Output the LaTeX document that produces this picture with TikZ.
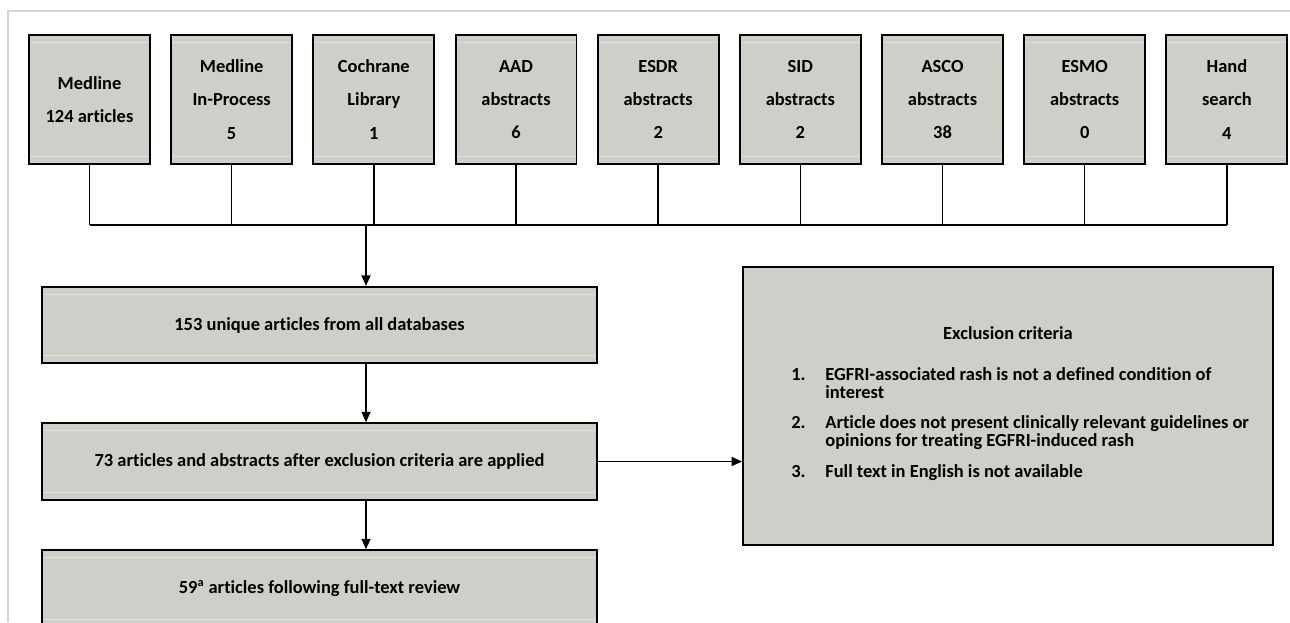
\documentclass[tikz,border=0pt]{standalone}
\usepackage{fontspec}
\setmainfont{Carlito}[Ligatures=NoCommon]
\usepackage{tikz}
\usetikzlibrary{arrows.meta,positioning,calc}
\definecolor{boxgray}{RGB}{204,208,201}
\definecolor{boxshine}{RGB}{224,227,221}
\definecolor{framegray}{RGB}{211,214,208}

\begin{document}
\begin{tikzpicture}[x=0.02cm, y=-0.02cm, >={Triangle[length=0.21cm,width=0.18cm]}, node distance=2.844cm]
\tikzstyle{shine}=[path picture={
    \draw[boxshine, line width=0.6pt] ([yshift=-0.15cm]path picture bounding box.north west) -- ([yshift=-0.15cm]path picture bounding box.north east);
    \draw[boxshine, line width=0.6pt] ([yshift=0.15cm]path picture bounding box.south west) -- ([yshift=0.15cm]path picture bounding box.south east);}]
\tikzstyle{src}=[draw=black, fill=boxgray, line width=1.1pt, minimum width=2.42cm, minimum height=2.58cm, inner sep=0pt, align=center, font=\fontsize{10.5}{19}\selectfont\bfseries, shine]
\tikzstyle{stage}=[draw=black, fill=boxgray, line width=1.1pt, minimum width=11.1cm, minimum height=1.53cm, inner sep=0pt, font=\fontsize{10.5}{12}\selectfont\bfseries, shine]
\tikzstyle{crit}=[draw=black, fill=boxgray, line width=1.1pt, minimum width=10.6cm, minimum height=5.56cm, inner sep=0pt]
\tikzstyle{link}=[line width=0.85pt]
\tikzstyle{mainlink}=[line width=1.1pt]

\useasboundingbox (0,0) rectangle (1290,622);
\draw[framegray, line width=1.7pt] (8,622) -- (8,11) -- (1290,11);

% sources
\node[src]    (medline)  at (89.5,99.5)      {Medline\\124 articles};
\node[src]    (inproc)[right of=medline]     {Medline\\In-Process\\5};
\node[src]    (cochrane)[right of=inproc]    {Cochrane\\Library\\1};
\node[src]    (aad)[right of=cochrane]       {AAD\\abstracts\\6};
\node[src]    (esdr)[right of=aad]           {ESDR\\abstracts\\2};
\node[src]    (sid)[right of=esdr]           {SID\\abstracts\\2};
\node[src]    (asco)[right of=sid]           {ASCO\\abstracts\\38};
\node[src]    (esmo)[right of=asco]          {ESMO\\abstracts\\0};
\node[src]    (hand)[right of=esmo]          {Hand\\search\\4};

% screening steps
\node[stage]  (unique)   at (319.5,325)      {153 unique articles from all databases};
\node[stage]  (applied)  at (319.5,461.5)    {73 articles and abstracts after exclusion criteria are applied};
\node[stage]  (fulltext) at (319.5,588.5)    {59\textsuperscript{\scriptsize a} articles following full-text review};

% exclusion box
\node[crit]   (excl)     at (1008,406)       {};
\node[anchor=base, font=\fontsize{10.5}{12}\selectfont\bfseries] (exclTitle) at (1008,339) {Exclusion criteria};
\node[anchor=base west, inner sep=0pt, font=\fontsize{10.5}{10.2}\selectfont\bfseries] (exclList) at (791,380)
  {\begin{tabular}[t]{@{}p{0.68cm}@{}l@{}}
   1. & EGFRI-associated rash is not a defined condition of\\
      & interest\\[6.8pt]
   2. & Article does not present clinically relevant guidelines or\\
      & opinions for treating EGFRI-induced rash\\[6.8pt]
   3. & Full text in English is not available
   \end{tabular}};

% connectors
\coordinate (join) at (366,225);
\foreach \s in {medline,inproc,cochrane,aad,esdr,sid,asco,esmo,hand}
  \draw[link] (\s.south) -- (\s.south |- join);
\draw[link] (medline.south |- join) -- (hand.south |- join);
\draw[mainlink,->] (join) -- (join |- unique.north);
\draw[link,->] (join |- unique.south) -- (join |- applied.north);
\draw[link,->] (join |- applied.south) -- (join |- fulltext.north);
\draw[mainlink,->] (applied.east) -- (applied.east -| excl.west);
\end{tikzpicture}
\end{document}
